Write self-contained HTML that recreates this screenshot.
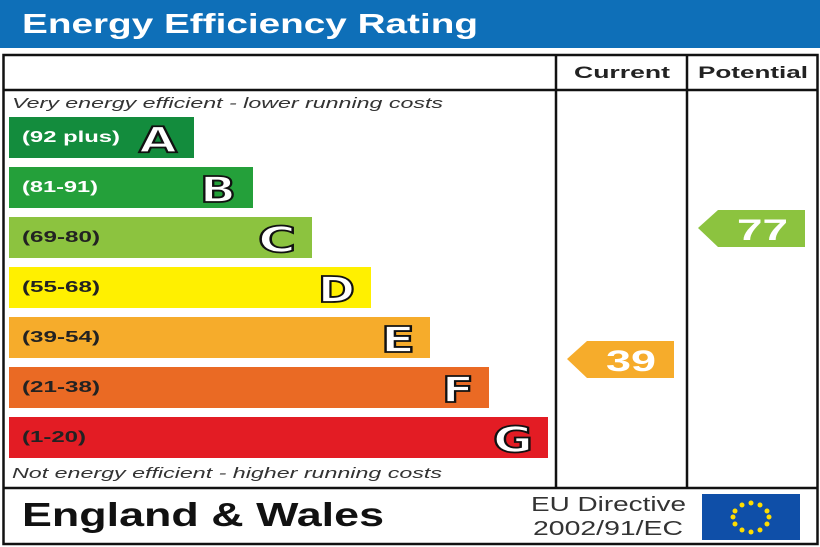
<!DOCTYPE html>
<html><head><style>body{margin:0;background:#fff}svg{display:block}</style></head><body>
<svg width="820" height="547" xmlns="http://www.w3.org/2000/svg" font-family="Liberation Sans, sans-serif" font-weight="bold">
<rect x="0" y="0" width="820" height="48" fill="#0e6fb8"/>
<text x="22" y="33" font-size="28" fill="#fff" textLength="456" lengthAdjust="spacingAndGlyphs">Energy Efficiency Rating</text>
<rect x="3.5" y="55" width="814" height="489" fill="none" stroke="#111" stroke-width="2.5"/>
<line x1="3" y1="90" x2="818" y2="90" stroke="#111" stroke-width="2.5"/>
<line x1="3" y1="488" x2="818" y2="488" stroke="#111" stroke-width="2.5"/>
<line x1="556" y1="55" x2="556" y2="488" stroke="#111" stroke-width="2.5"/>
<line x1="687" y1="55" x2="687" y2="488" stroke="#111" stroke-width="2.5"/>
<text x="574" y="78" font-size="17" fill="#222" textLength="96" lengthAdjust="spacingAndGlyphs">Current</text>
<text x="698" y="78" font-size="17" fill="#222" textLength="110" lengthAdjust="spacingAndGlyphs">Potential</text>
<text x="12" y="108" font-size="15" font-weight="normal" font-style="italic" fill="#333" textLength="431" lengthAdjust="spacingAndGlyphs">Very energy efficient - lower running costs</text>
<text x="12" y="478" font-size="15" font-weight="normal" font-style="italic" fill="#333" textLength="430" lengthAdjust="spacingAndGlyphs">Not energy efficient - higher running costs</text>
<g font-size="16" fill="#fff">
<rect x="9" y="117" width="185" height="41" fill="#138c3d"/><text x="22" y="142" textLength="98" lengthAdjust="spacingAndGlyphs">(92 plus)</text>
<rect x="9" y="167" width="244" height="41" fill="#24a03a"/><text x="22" y="192" textLength="76" lengthAdjust="spacingAndGlyphs">(81-91)</text>
<rect x="9" y="217" width="303" height="41" fill="#8cc33f"/><text x="22" y="242" fill="#222" textLength="78" lengthAdjust="spacingAndGlyphs">(69-80)</text>
<rect x="9" y="267" width="362" height="41" fill="#fff000"/><text x="22" y="292" fill="#222" textLength="78" lengthAdjust="spacingAndGlyphs">(55-68)</text>
<rect x="9" y="317" width="421" height="41" fill="#f6ac2b"/><text x="22" y="342" fill="#222" textLength="78" lengthAdjust="spacingAndGlyphs">(39-54)</text>
<rect x="9" y="367" width="480" height="41" fill="#ea6a24"/><text x="22" y="392" fill="#222" textLength="78" lengthAdjust="spacingAndGlyphs">(21-38)</text>
<rect x="9" y="417" width="539" height="41" fill="#e31c24"/><text x="22" y="442" fill="#222" textLength="64" lengthAdjust="spacingAndGlyphs">(1-20)</text>
</g>
<g font-size="36" fill="#fff" stroke="#111" stroke-width="1.8" font-family="DejaVu Sans, sans-serif">
<text x="139" y="152" textLength="38" lengthAdjust="spacingAndGlyphs">A</text><text x="200" y="202" textLength="36" lengthAdjust="spacingAndGlyphs">B</text><text x="258" y="252" textLength="38" lengthAdjust="spacingAndGlyphs">C</text><text x="318" y="302" textLength="37" lengthAdjust="spacingAndGlyphs">D</text><text x="381" y="352" textLength="34" lengthAdjust="spacingAndGlyphs">E</text><text x="442" y="402" textLength="32" lengthAdjust="spacingAndGlyphs">F</text><text x="493" y="452" textLength="40" lengthAdjust="spacingAndGlyphs">G</text>
</g>
<polygon points="567,359 587,341 674,341 674,378 587,378" fill="#f6ac2b"/>
<text x="606" y="371" font-size="30" fill="#fff" textLength="50" lengthAdjust="spacingAndGlyphs">39</text>
<polygon points="698,228 718,210 805,210 805,247 718,247" fill="#8cc33f"/>
<text x="737" y="240" font-size="30" fill="#fff" textLength="51" lengthAdjust="spacingAndGlyphs">77</text>
<text x="22" y="526" font-size="33" fill="#111" textLength="362" lengthAdjust="spacingAndGlyphs">England &amp; Wales</text>
<text x="531" y="511" font-size="20" font-weight="normal" fill="#333" textLength="155" lengthAdjust="spacingAndGlyphs">EU Directive</text>
<text x="533" y="535" font-size="20" font-weight="normal" fill="#333" textLength="150" lengthAdjust="spacingAndGlyphs">2002/91/EC</text>
<rect x="702" y="494" width="98" height="46" fill="#0f4fa8"/>
<g fill="#ffdd00">
<circle cx="751" cy="503" r="2.5"/><circle cx="760" cy="505" r="2.5"/><circle cx="767" cy="511" r="2.5"/><circle cx="769" cy="517" r="2.5"/><circle cx="767" cy="524" r="2.5"/><circle cx="760" cy="530" r="2.5"/><circle cx="751" cy="532" r="2.5"/><circle cx="742" cy="530" r="2.5"/><circle cx="735" cy="524" r="2.5"/><circle cx="733" cy="517" r="2.5"/><circle cx="735" cy="511" r="2.5"/><circle cx="742" cy="505" r="2.5"/>
</g>
</svg>
</body></html>
